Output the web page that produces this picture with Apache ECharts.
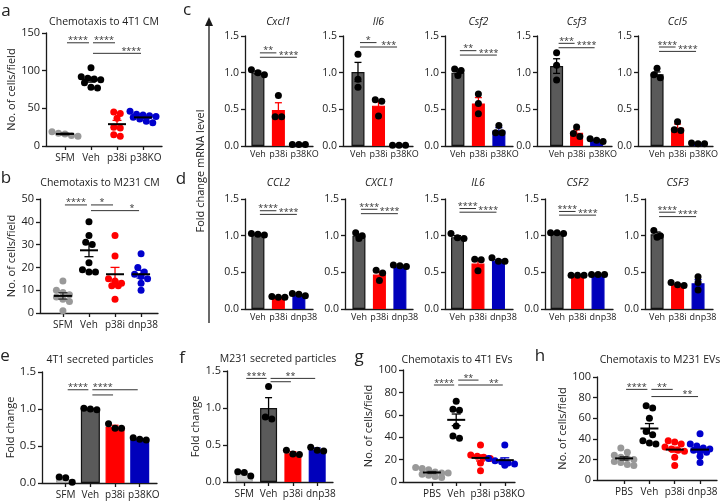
<!DOCTYPE html>
<html>
<head>
<meta charset="utf-8">
<script src="https://cdn.jsdelivr.net/npm/echarts@6/dist/echarts.min.js"></script>
<style>
  html, body { margin: 0; padding: 0; background: #fff; }
  #main { width: 720px; height: 502px; }
</style>
</head>
<body>
<div id="main"></div>
<script>
// ---- data ----
// a: chemotaxis to 4T1 CM
var aGroups = ['SFM', 'Veh', 'p38i', 'p38KO'];
var aPoints = [[19, 17, 16, 14, 13], [104, 92, 90, 89, 88, 84, 78, 77], [45, 43, 37, 25, 24, 15, 13], [46, 42, 41, 40, 39, 38, 36, 33, 31]];
var aMean = [16, 88, 29, 38];
var aSem = [1.2, 3.2, 5.0, 1.6];
var aSig = [[0, 1, 137, '****'], [1, 2, 137, '****'], [1, 3, 123, '****', 2.55]];

// b: chemotaxis to M231 CM
var bGroups = ['SFM', 'Veh', 'p38i', 'dnp38'];
var bPoints = [[14, 10, 9, 8, 7, 6, 5, 1], [40, 34, 31, 30, 22, 19, 18, 18], [34, 25, 15, 14, 13, 12, 12, 6], [26, 20, 18, 17, 16, 15, 13, 10]];
var bMean = [7.5, 27.5, 17, 17];
var bSem = [1.4, 2.8, 3.0, 1.7];
var bSig = [[0, 1, 47.4, '****'], [1, 2, 47.4, '*'], [1, 3, 44.9, '*', 2.65]];

// c: mouse genes, fold change mRNA
var cGenes = ['Cxcl1', 'Il6', 'Csf2', 'Csf3', 'Ccl5'];
var cGroups = ['Veh', 'p38i', 'p38KO'];
var cMean = [[1.00, 0.49, 0.02], [1.01, 0.55, 0.01], [1.00, 0.58, 0.21], [1.09, 0.18, 0.08], [0.98, 0.25, 0.03]];
var cSem = [[0.02, 0.10, 0.002], [0.13, 0.07, 0.002], [0.02, 0.08, 0.04], [0.10, 0.04, 0.01], [0.03, 0.05, 0.005]];
var cPoints = [
  [[1.04, 1.00, 0.97], [0.69, 0.40, 0.40], [0.02, 0.02, 0.02]],
  [[1.25, 0.91, 0.80], [0.63, 0.61, 0.41], [0.01, 0.01, 0.01]],
  [[1.05, 1.03, 0.96], [0.71, 0.58, 0.44], [0.28, 0.18, 0.18]],
  [[1.27, 1.10, 0.90], [0.26, 0.17, 0.13], [0.10, 0.08, 0.06]],
  [[1.06, 0.97, 0.93], [0.33, 0.22, 0.21], [0.04, 0.03, 0.03]]
];
var cSig = [
  [[0, 1, 1.27, '**'], [0, 2, 1.21, '****', 1.5]],
  [[0, 1, 1.41, '*'], [0, 2, 1.35, '***', 1.5]],
  [[0, 1, 1.30, '**'], [0, 2, 1.24, '****', 1.5]],
  [[0, 1, 1.40, '***'], [0, 2, 1.34, '****', 1.5]],
  [[0, 1, 1.35, '****'], [0, 2, 1.29, '****', 1.5]]
];

// d: human genes
var dGenes = ['CCL2', 'CXCL1', 'IL6', 'CSF2', 'CSF3'];
var dGroups = ['Veh', 'p38i', 'dnp38'];
var dMean = [[1.02, 0.16, 0.19], [1.00, 0.47, 0.58], [0.98, 0.62, 0.66], [1.03, 0.46, 0.47], [1.02, 0.33, 0.35]];
var dSem = [[0.005, 0.005, 0.01], [0.02, 0.04, 0.01], [0.02, 0.05, 0.01], [0.005, 0.003, 0.003], [0.03, 0.01, 0.05]];
var dPoints = [
  [[1.01, 1.02, 1.03], [0.16, 0.16, 0.17], [0.18, 0.20, 0.21]],
  [[1.04, 1.00, 0.96], [0.53, 0.49, 0.39], [0.60, 0.59, 0.58]],
  [[1.03, 0.97, 0.96], [0.68, 0.67, 0.52], [0.70, 0.65, 0.65]],
  [[1.04, 1.04, 1.03], [0.46, 0.46, 0.46], [0.47, 0.47, 0.47]],
  [[1.07, 1.00, 0.98], [0.36, 0.33, 0.32], [0.44, 0.36, 0.26]]
];
var dSig = [
  [[0, 1, 1.34, '****'], [0, 2, 1.29, '****', 1.5]],
  [[0, 1, 1.36, '****'], [0, 2, 1.30, '****', 1.5]],
  [[0, 1, 1.37, '****'], [0, 2, 1.32, '****', 1.5]],
  [[0, 1, 1.33, '****'], [0, 2, 1.28, '****', 1.5]],
  [[0, 1, 1.32, '****'], [0, 2, 1.26, '****', 1.5]]
];

// e: 4T1 secreted particles
var eGroups = ['SFM', 'Veh', 'p38i', 'p38KO'];
var eMean = [0.05, 1.00, 0.76, 0.59];
var eSem = [0.025, 0.005, 0.02, 0.01];
var ePoints = [[0.08, 0.07, 0.01], [1.01, 1.00, 0.99], [0.80, 0.74, 0.74], [0.61, 0.59, 0.58]];
var eSig = [[0, 1, 1.26, '****'], [1, 3, 1.26, '****', 1.5], [1, 2, 1.19, '']];

// f: M231 secreted particles
var fGroups = ['SFM', 'Veh', 'p38i', 'dnp38'];
var fMean = [0.12, 1.00, 0.39, 0.44];
var fSem = [0.02, 0.14, 0.02, 0.02];
var fPoints = [[0.14, 0.13, 0.08], [1.29, 0.88, 0.85], [0.43, 0.38, 0.37], [0.47, 0.43, 0.42]];
var fSig = [[0, 1, 1.40, '****'], [1, 3, 1.40, '**', 1.9], [1, 2, 1.355, '']];

// g: chemotaxis to 4T1 EVs
var gGroups = ['PBS', 'Veh', 'p38i', 'p38KO'];
var gPoints = [[13, 12, 11, 9, 8, 8, 7, 6, 5, 4], [72, 65, 64, 50, 41, 39], [33, 24, 23, 22, 21, 17, 10], [33, 21, 19, 18, 17, 16, 16, 15]];
var gMean = [8.5, 55.5, 21.5, 19.5];
var gSem = [0.9, 5.2, 2.7, 2.1];
var gSig = [[0, 1, 86.6, '****'], [1, 2, 91, '**'], [1, 3, 86.6, '**', 2.55]];

// h: chemotaxis to M231 EVs
var hGroups = ['PBS', 'Veh', 'p38i', 'dnp38'];
var hPoints = [[31, 27, 24, 22, 21, 20, 18, 17, 15, 14], [72, 70, 60, 47, 44, 38, 36, 35], [38, 37, 35, 32, 30, 29, 28, 22, 14], [45, 35, 33, 31, 30, 29, 28, 27, 23, 17]];
var hMean = [21, 50, 29.5, 29.5];
var hSem = [1.7, 4.8, 2.4, 2.3];
var hSig = [[0, 1, 88, '****'], [1, 2, 88, '**'], [1, 3, 81, '**', 2.5]];

// ---- styling ----
var FONT = '"Open Sans", "Noto Sans", sans-serif';
var AXIS = '#1a1a1a';
var TEXT = '#222';
var DOT = { SFM: '#999999', PBS: '#999999', Veh: '#000000', p38i: '#ff0000', p38KO: '#0000cc', dnp38: '#0000cc' };
var ERR = { SFM: '#333333', PBS: '#333333', Veh: '#000000', p38i: '#ff0000', p38KO: '#0000cc', dnp38: '#0000cc' };
var BAR = { SFM: '#d3d3d3', Veh: '#5a5a5a', p38i: '#ff0000', p38KO: '#0000bb', dnp38: '#0000bb' };
var BAR_EDGE = { SFM: '#9a9a9a', Veh: '#111111', p38i: '#ff0000', p38KO: '#0000bb', dnp38: '#0000bb' };

var grids = [], xAxes = [], yAxes = [], series = [], graphics = [];
var measureCtx = document.createElement('canvas').getContext('2d');

function textEl(txt, x, y, size, italic, rot) {
  return {
    type: 'text', x: x, y: y, rotation: rot || 0, silent: true,
    style: {
      text: txt, fill: TEXT, font: (italic ? 'italic ' : '') + size + 'px ' + FONT,
      align: 'center', verticalAlign: 'middle', textAlign: 'center', textVerticalAlign: 'middle'
    }
  };
}

// group points of similar height into rows and centre each row
function swarm(vals, pxY, pxX, d) {
  var order = vals.map(function (v, i) { return i; }).sort(function (a, b) { return vals[b] - vals[a]; });
  var offs = [], row = [];
  function flush() {
    row.forEach(function (k, j) { offs[k] = (j - (row.length - 1) / 2) * d / pxX; });
    row = [];
  }
  order.forEach(function (k) {
    if (row.length && (vals[row[0]] - vals[k]) * pxY > d * 0.9) flush();
    row.push(k);
  });
  flush();
  return offs;
}

// push crowded group names to the right so that they read like one line
function labelShifts(groups, pxX, font) {
  measureCtx.font = font;
  var shifts = [], prevRight = -Infinity;
  groups.forEach(function (g, i) {
    var w = measureCtx.measureText(g).width;
    var left = i * pxX - w / 2;
    var s = Math.max(0, prevRight + 3 - left);
    shifts.push(s);
    prevRight = left + s + w;
  });
  return shifts;
}

function addAxes(p) {
  var gi = grids.length;
  var idx = p.groups.map(function (g, i) { return i; });
  var pxX = p.box[2] / (p.xr[1] - p.xr[0]);
  var font = p.xSize + 'px ' + FONT;
  var shifts = labelShifts(p.groups, pxX, font);
  grids.push({ left: p.box[0], top: p.box[1], width: p.box[2], height: p.box[3] });
  xAxes.push({
    gridIndex: gi, type: 'value', min: p.xr[0], max: p.xr[1],
    axisLine: { show: true, onZero: false, lineStyle: { color: AXIS, width: 1.3 } },
    axisTick: { show: !!p.ticks, customValues: idx, length: 4, lineStyle: { color: AXIS, width: 1.3 } },
    axisLabel: { show: false },
    splitLine: { show: false }
  });
  yAxes.push({
    gridIndex: gi, type: 'value', min: 0, max: p.yMax, interval: p.yStep,
    name: p.yName || '', nameLocation: 'middle', nameGap: p.nameGap || 20, nameRotate: 90,
    nameTextStyle: { fontSize: 11, color: TEXT, fontFamily: FONT },
    axisLine: { show: true, onZero: false, lineStyle: { color: AXIS, width: 1.3 } },
    axisTick: { show: true, length: 4, lineStyle: { color: AXIS, width: 1.3 } },
    axisLabel: {
      margin: 6, fontSize: p.ySize, color: TEXT, fontFamily: FONT,
      formatter: function (v) { return p.digits ? v.toFixed(p.digits) : String(v); }
    },
    splitLine: { show: false }
  });
  // group names under the x axis, placed through the axis scale
  series.push({
    type: 'custom', xAxisIndex: gi, yAxisIndex: gi, silent: true, clip: false, z: 6,
    data: idx.map(function (i) { return [i, 0]; }),
    renderItem: function (params, api) {
      var c = api.coord([api.value(0), 0]);
      return {
        type: 'text', x: c[0] + shifts[params.dataIndex], y: c[1] + (p.ticks ? 7 : 4),
        style: { text: p.groups[params.dataIndex], fill: TEXT, font: font, align: 'center', verticalAlign: 'top' }
      };
    }
  });
  return gi;
}

function errSeries(gi, means, sems, colors, cap, half) {
  return {
    type: 'custom', xAxisIndex: gi, yAxisIndex: gi, z: 4, silent: true, clip: false,
    data: means.map(function (m, i) { return [i, m, sems[i]]; }),
    renderItem: function (params, api) {
      var x = api.value(0), m = api.value(1), s = api.value(2);
      var t = api.coord([x, m + s]), b = api.coord([x, m - s]), c = api.coord([x, m]);
      var st = { stroke: colors[params.dataIndex], lineWidth: 1.3 };
      var ch = [
        { type: 'line', shape: { x1: t[0], y1: t[1], x2: b[0], y2: b[1] }, style: st },
        { type: 'line', shape: { x1: t[0] - cap, y1: t[1], x2: t[0] + cap, y2: t[1] }, style: st },
        { type: 'line', shape: { x1: b[0] - cap, y1: b[1], x2: b[0] + cap, y2: b[1] }, style: st }
      ];
      if (half) {
        ch.push({ type: 'line', shape: { x1: c[0] - half, y1: c[1], x2: c[0] + half, y2: c[1] }, style: { stroke: '#000', lineWidth: 2 } });
      }
      return { type: 'group', children: ch };
    }
  };
}

function sigSeries(gi, sigs) {
  return {
    type: 'custom', xAxisIndex: gi, yAxisIndex: gi, z: 5, silent: true, clip: false,
    data: sigs.map(function (s) { return [s[0], s[1], s[2], s[4] == null ? (s[0] + s[1]) / 2 : s[4]]; }),
    renderItem: function (params, api) {
      var s = sigs[params.dataIndex];
      var p1 = api.coord([api.value(0), api.value(2)]);
      var p2 = api.coord([api.value(1), api.value(2)]);
      var pt = api.coord([api.value(3), api.value(2)]);
      var ch = [{ type: 'line', shape: { x1: p1[0] + 2, y1: p1[1], x2: p2[0] - 2, y2: p2[1] }, style: { stroke: '#333', lineWidth: 1 } }];
      if (s[3]) {
        ch.push({ type: 'text', x: pt[0], y: pt[1] - 2, style: { text: s[3], fill: '#333', font: '9px ' + FONT, align: 'center', verticalAlign: 'middle' } });
      }
      return { type: 'group', children: ch };
    }
  };
}

function scatterPanel(p) {
  var gi = addAxes(p);
  var pxY = p.box[3] / p.yMax, pxX = p.box[2] / (p.xr[1] - p.xr[0]);
  p.points.forEach(function (vals, i) {
    var offs = swarm(vals, pxY, pxX, 6.5);
    series.push({
      type: 'scatter', xAxisIndex: gi, yAxisIndex: gi, symbolSize: 7, z: 3, silent: true,
      itemStyle: { color: DOT[p.groups[i]], opacity: 1 },
      data: vals.map(function (v, k) { return [i + offs[k], v]; })
    });
  });
  series.push(errSeries(gi, p.mean, p.sem, p.groups.map(function (g) { return ERR[g]; }), 4.5, 9));
  series.push(sigSeries(gi, p.sig));
  graphics.push(textEl(p.title, p.titleX, p.titleY, 10.5, false));
}

function barPanel(p) {
  var gi = addAxes(p);
  var pxY = p.box[3] / p.yMax, pxX = p.box[2] / (p.xr[1] - p.xr[0]);
  series.push({
    type: 'bar', xAxisIndex: gi, yAxisIndex: gi, barWidth: p.barWidth, z: 2, silent: true,
    data: p.mean.map(function (m, i) {
      return { value: [i, m], itemStyle: { color: BAR[p.groups[i]], borderColor: BAR_EDGE[p.groups[i]], borderWidth: 1.2 } };
    })
  });
  series.push(errSeries(gi, p.mean, p.sem, p.groups.map(function (g) { return g === 'Veh' ? '#000' : BAR[g]; }), 3.5, 0));
  var pts = [];
  p.points.forEach(function (vals, i) {
    var offs = swarm(vals, pxY, pxX, 6.5);
    vals.forEach(function (v, k) { pts.push([i + offs[k], v]); });
  });
  series.push({
    type: 'scatter', xAxisIndex: gi, yAxisIndex: gi, symbolSize: 7, z: 5, silent: true,
    itemStyle: { color: '#000', opacity: 1 }, data: pts
  });
  series.push(sigSeries(gi, p.sig));
  var tx = p.titleX != null ? p.titleX : p.box[0] + (1 - p.xr[0]) * pxX;
  graphics.push(textEl(p.title, tx, p.titleY, 10.5, p.italic));
}

// ---- panels ----
scatterPanel({ box: [46, 33, 116, 113], xr: [-0.73, 3.73], groups: aGroups, points: aPoints, mean: aMean, sem: aSem, sig: aSig,
  yMax: 150, yStep: 50, ticks: true, xSize: 10, ySize: 11, yName: 'No. of cells/field', nameGap: 28,
  title: 'Chemotaxis to 4T1 CM', titleX: 104, titleY: 22 });
scatterPanel({ box: [40, 199, 118, 114], xr: [-0.88, 3.65], groups: bGroups, points: bPoints, mean: bMean, sem: bSem, sig: bSig,
  yMax: 50, yStep: 10, ticks: true, xSize: 10, ySize: 11, yName: 'No. of cells/field', nameGap: 22,
  title: 'Chemotaxis to M231 CM', titleX: 100, titleY: 183 });

var cBoxes = [[245, 36, 68, 110], [343, 36, 70, 110], [445, 36, 68, 110], [537, 36, 75, 110], [638, 36, 75, 110]];
var cRanges = [[-0.63, 2.69], [-0.73, 2.68], [-0.63, 2.69], [-0.98, 2.77], [-0.93, 2.73]];
cGenes.forEach(function (g, i) {
  barPanel({ box: cBoxes[i], xr: cRanges[i], groups: cGroups, points: cPoints[i], mean: cMean[i], sem: cSem[i], sig: cSig[i],
    yMax: 1.5, yStep: 0.5, digits: 1, ticks: false, xSize: 9, ySize: 10.5, barWidth: 13,
    title: g, titleY: 22, italic: true });
});
var dBoxes = [[245, 199, 68, 110], [345, 199, 68, 110], [445, 199, 68, 110], [545, 199, 68, 110], [645, 199, 68, 110]];
var dRanges = [[-0.63, 2.69], [-0.68, 2.64], [-0.61, 2.71], [-0.59, 2.73], [-0.59, 2.73]];
dGenes.forEach(function (g, i) {
  barPanel({ box: dBoxes[i], xr: dRanges[i], groups: dGroups, points: dPoints[i], mean: dMean[i], sem: dSem[i], sig: dSig[i],
    yMax: 1.5, yStep: 0.5, digits: 1, ticks: false, xSize: 9, ySize: 10.5, barWidth: 13,
    title: g, titleY: 183, italic: true });
});

barPanel({ box: [42, 372, 115, 111], xr: [-0.96, 3.70], groups: eGroups, points: ePoints, mean: eMean, sem: eSem, sig: eSig,
  yMax: 1.5, yStep: 0.5, digits: 1, ticks: true, xSize: 10, ySize: 11.5, barWidth: 19, yName: 'Fold change', nameGap: 23,
  title: '4T1 secreted particles', titleX: 100, titleY: 360 });
barPanel({ box: [227, 371, 106, 111], xr: [-0.71, 3.65], groups: fGroups, points: fPoints, mean: fMean, sem: fSem, sig: fSig,
  yMax: 1.5, yStep: 0.5, digits: 1, ticks: true, xSize: 10, ySize: 11, barWidth: 17, yName: 'Fold change', nameGap: 26,
  title: 'M231 secreted particles', titleX: 278, titleY: 359 });
scatterPanel({ box: [403, 370, 112, 112], xr: [-1.19, 3.42], groups: gGroups, points: gPoints, mean: gMean, sem: gSem, sig: gSig,
  yMax: 100, yStep: 20, ticks: true, xSize: 10, ySize: 11, yName: 'No. of cells/field', nameGap: 20,
  title: 'Chemotaxis to 4T1 EVs', titleX: 457, titleY: 360 });
scatterPanel({ box: [597, 377, 120, 103], xr: [-1.07, 3.67], groups: hGroups, points: hPoints, mean: hMean, sem: hSem, sig: hSig,
  yMax: 100, yStep: 20, ticks: true, xSize: 10, ySize: 11, yName: 'No. of cells/field', nameGap: 24,
  title: 'Chemotaxis to M231 EVs', titleX: 660, titleY: 360 });

// panel letters
[['a', 6, 11], ['b', 6, 178], ['c', 187, 10], ['d', 181, 179], ['e', 5, 356], ['f', 182, 358], ['g', 359, 357], ['h', 540, 356]].forEach(function (l) {
  graphics.push(textEl(l[0], l[1], l[2], 17, false));
});

// shared y label for c and d
graphics.push({ type: 'line', silent: true, shape: { x1: 209, y1: 24, x2: 209, y2: 323 }, style: { stroke: AXIS, lineWidth: 1.3 } });
graphics.push({ type: 'polygon', silent: true, shape: { points: [[205, 26], [213, 26], [209, 17]] }, style: { fill: AXIS } });
graphics.push(textEl('Fold change mRNA level', 201, 171, 11, false, Math.PI / 2));

var chart = echarts.init(document.getElementById('main'));
var option = {
  animation: false,
  grid: grids,
  xAxis: xAxes,
  yAxis: yAxes,
  series: series,
  graphic: { elements: graphics }
};
chart.setOption(option);
window.addEventListener('resize', function () { chart.resize(); });
</script>
</body>
</html>
